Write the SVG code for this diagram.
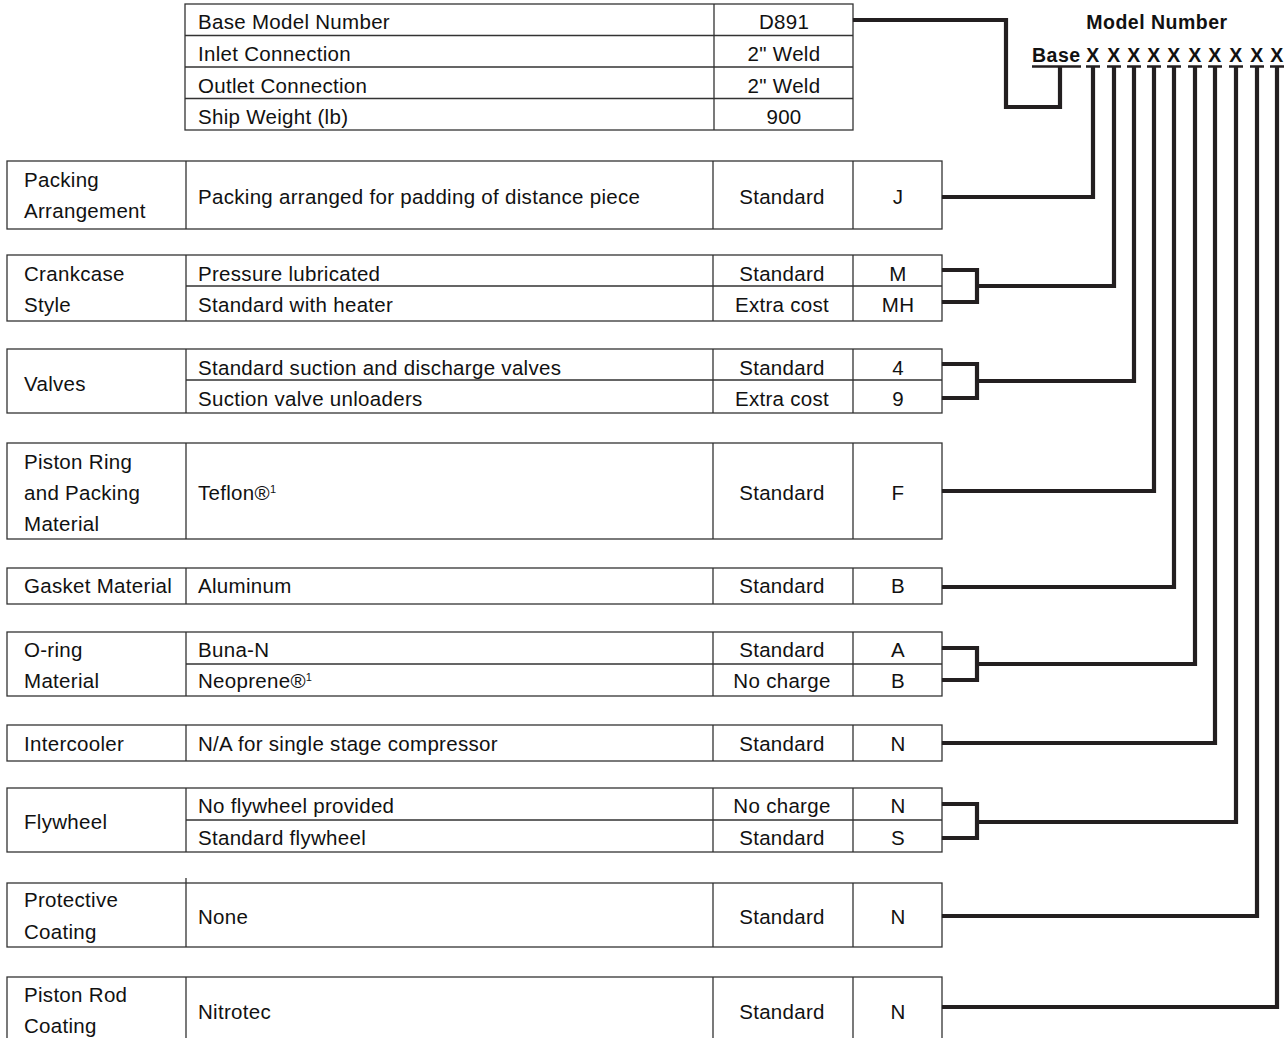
<svg xmlns="http://www.w3.org/2000/svg" width="1286" height="1038" viewBox="0 0 1286 1038">
<style>
.t{font-family:"Liberation Sans",Arial,Helvetica,sans-serif;font-size:20.5px;letter-spacing:0.3px;fill:#111}
.c{text-anchor:middle}
.b{font-weight:bold;font-size:19.5px;letter-spacing:0.5px}
.box{fill:#fff;stroke:#333;stroke-width:1.3}
.ln{stroke:#333;stroke-width:1.3;fill:none}
.cn{stroke:#231f20;stroke-width:4.2;fill:none;stroke-linejoin:miter;stroke-linecap:square}
.ul{stroke:#231f20;stroke-width:2.5}
</style>
<rect width="1286" height="1038" fill="#fff"/>

<g id="base-info">
<rect class="box" x="185" y="4" width="668" height="126"/>
<path class="ln" d="M714 4V130M185 35.5H853M185 67H853M185 98.5H853"/>
<text class="t" x="198" y="29">Base Model Number</text>
<text class="t c" x="784" y="29">D891</text>
<text class="t" x="198" y="61">Inlet Connection</text>
<text class="t c" x="784" y="61">2" Weld</text>
<text class="t" x="198" y="93">Outlet Connection</text>
<text class="t c" x="784" y="93">2" Weld</text>
<text class="t" x="198" y="124">Ship Weight (lb)</text>
<text class="t c" x="784" y="124">900</text>
</g>

<g id="model-number">
<text class="t b c" x="1157" y="29">Model Number</text>
<text class="t b" x="1032" y="62">Base</text>
<text class="t b c" x="1093" y="62">X</text>
<text class="t b c" x="1114" y="62">X</text>
<text class="t b c" x="1134" y="62">X</text>
<text class="t b c" x="1154" y="62">X</text>
<text class="t b c" x="1174" y="62">X</text>
<text class="t b c" x="1195" y="62">X</text>
<text class="t b c" x="1215" y="62">X</text>
<text class="t b c" x="1236" y="62">X</text>
<text class="t b c" x="1257" y="62">X</text>
<text class="t b c" x="1277" y="62">X</text>
<path class="ul" d="M1032 66.5H1081M1086 66.5H1100M1107 66.5H1121M1127 66.5H1141M1147 66.5H1161M1167 66.5H1181M1188 66.5H1202M1208 66.5H1222M1229 66.5H1243M1250 66.5H1264M1270 66.5H1284"/>
</g>

<g id="packing-arrangement">
<rect class="box" x="7" y="161" width="935" height="68"/>
<path class="ln" d="M186 161V229M713 161V229M853 161V229"/>
<text class="t" x="24" y="187">Packing</text>
<text class="t" x="24" y="218">Arrangement</text>
<text class="t" x="198" y="204">Packing arranged for padding of distance piece</text>
<text class="t c" x="782" y="204">Standard</text>
<text class="t c" x="898" y="204">J</text>
</g>

<g id="crankcase-style">
<rect class="box" x="7" y="255" width="935" height="66"/>
<path class="ln" d="M186 255V321M713 255V321M853 255V321M186 286H942"/>
<text class="t" x="24" y="281">Crankcase</text>
<text class="t" x="24" y="312">Style</text>
<text class="t" x="198" y="281">Pressure lubricated</text>
<text class="t c" x="782" y="281">Standard</text>
<text class="t c" x="898" y="281">M</text>
<text class="t" x="198" y="312">Standard with heater</text>
<text class="t c" x="782" y="312">Extra cost</text>
<text class="t c" x="898" y="312">MH</text>
</g>

<g id="valves">
<rect class="box" x="7" y="349" width="935" height="64"/>
<path class="ln" d="M186 349V413M713 349V413M853 349V413M186 380H942"/>
<text class="t" x="24" y="391">Valves</text>
<text class="t" x="198" y="375">Standard suction and discharge valves</text>
<text class="t c" x="782" y="375">Standard</text>
<text class="t c" x="898" y="375">4</text>
<text class="t" x="198" y="406">Suction valve unloaders</text>
<text class="t c" x="782" y="406">Extra cost</text>
<text class="t c" x="898" y="406">9</text>
</g>

<g id="piston-ring-packing-material">
<rect class="box" x="7" y="443" width="935" height="96"/>
<path class="ln" d="M186 443V539M713 443V539M853 443V539"/>
<text class="t" x="24" y="469">Piston Ring</text>
<text class="t" x="24" y="500">and Packing</text>
<text class="t" x="24" y="531">Material</text>
<text class="t" x="198" y="500">Teflon®<tspan font-size="11" dy="-7" letter-spacing="0">1</tspan></text>
<text class="t c" x="782" y="500">Standard</text>
<text class="t c" x="898" y="500">F</text>
</g>

<g id="gasket-material">
<rect class="box" x="7" y="568" width="935" height="36"/>
<path class="ln" d="M186 568V604M713 568V604M853 568V604"/>
<text class="t" x="24" y="593">Gasket Material</text>
<text class="t" x="198" y="593">Aluminum</text>
<text class="t c" x="782" y="593">Standard</text>
<text class="t c" x="898" y="593">B</text>
</g>

<g id="o-ring-material">
<rect class="box" x="7" y="632" width="935" height="64"/>
<path class="ln" d="M186 632V696M713 632V696M853 632V696M186 664H942"/>
<text class="t" x="24" y="657">O-ring</text>
<text class="t" x="24" y="688">Material</text>
<text class="t" x="198" y="657">Buna-N</text>
<text class="t c" x="782" y="657">Standard</text>
<text class="t c" x="898" y="657">A</text>
<text class="t" x="198" y="688">Neoprene®<tspan font-size="11" dy="-7" letter-spacing="0">1</tspan></text>
<text class="t c" x="782" y="688">No charge</text>
<text class="t c" x="898" y="688">B</text>
</g>

<g id="intercooler">
<rect class="box" x="7" y="725" width="935" height="36"/>
<path class="ln" d="M186 725V761M713 725V761M853 725V761"/>
<text class="t" x="24" y="751">Intercooler</text>
<text class="t" x="198" y="751">N/A for single stage compressor</text>
<text class="t c" x="782" y="751">Standard</text>
<text class="t c" x="898" y="751">N</text>
</g>

<g id="flywheel">
<rect class="box" x="7" y="788" width="935" height="64"/>
<path class="ln" d="M186 788V852M713 788V852M853 788V852M186 820H942"/>
<text class="t" x="24" y="829">Flywheel</text>
<text class="t" x="198" y="813">No flywheel provided</text>
<text class="t c" x="782" y="813">No charge</text>
<text class="t c" x="898" y="813">N</text>
<text class="t" x="198" y="845">Standard flywheel</text>
<text class="t c" x="782" y="845">Standard</text>
<text class="t c" x="898" y="845">S</text>
</g>

<g id="protective-coating">
<rect class="box" x="7" y="883" width="935" height="64"/>
<path class="ln" d="M186 878V947M713 883V947M853 883V947"/>
<text class="t" x="24" y="907">Protective</text>
<text class="t" x="24" y="939">Coating</text>
<text class="t" x="198" y="924">None</text>
<text class="t c" x="782" y="924">Standard</text>
<text class="t c" x="898" y="924">N</text>
</g>

<g id="piston-rod-coating">
<rect class="box" x="7" y="977" width="935" height="80"/>
<path class="ln" d="M186 977V1057M713 977V1057M853 977V1057"/>
<text class="t" x="24" y="1002">Piston Rod</text>
<text class="t" x="24" y="1033">Coating</text>
<text class="t" x="198" y="1019">Nitrotec</text>
<text class="t c" x="782" y="1019">Standard</text>
<text class="t c" x="898" y="1019">N</text>
</g>

<g id="connectors">
<path class="cn" d="M855 20H1006V107H1060V68"/>
<path class="cn" d="M944 197H1093V68"/>
<path class="cn" d="M944 270H977V302H944M977 286H1114V68"/>
<path class="cn" d="M944 364H977V398H944M977 381H1134V68"/>
<path class="cn" d="M944 491H1154V68"/>
<path class="cn" d="M944 587H1174V68"/>
<path class="cn" d="M944 648H977V680H944M977 664H1195V68"/>
<path class="cn" d="M944 743H1215V68"/>
<path class="cn" d="M944 804H977V838H944M977 822H1236V68"/>
<path class="cn" d="M944 916H1257V68"/>
<path class="cn" d="M944 1007H1277V68"/>
</g>
</svg>
